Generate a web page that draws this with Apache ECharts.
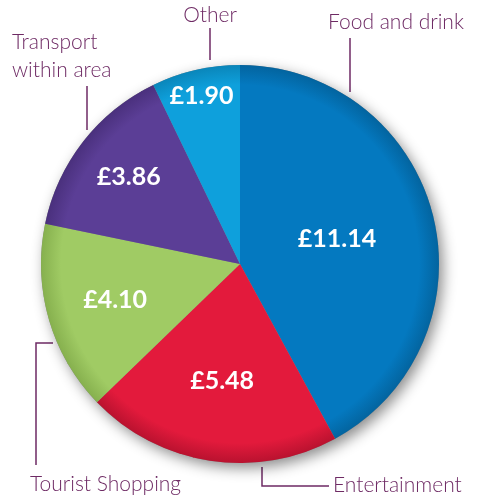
<!DOCTYPE html>
<html><head><meta charset="utf-8">
<script src="https://cdn.jsdelivr.net/npm/echarts@6/dist/echarts.min.js"></script>
<style>html,body{margin:0;padding:0;background:#fff}#c{width:485px;height:499px}</style>
</head><body><div id="c"></div>
<script>
const categories = ['Food and drink', 'Entertainment', 'Tourist Shopping', 'Transport\nwithin area', 'Other'];
const values = [11.14, 5.48, 4.10, 3.86, 1.90];
const valueLabels = ['£11.14', '£5.48', '£4.10', '£3.86', '£1.90'];
const colors = ['#0479c0', '#e31a3c', '#a0cb64', '#5b3e96', '#0ea0dc'];
const edgeColors = ['#03649f', '#b9122f', '#86b04e', '#4a307d', '#0a86ba'];

const CX = 240, CY = 264, R = 199;
const labelRadius = [100, 118, 130, 141, 172];
const total = values.reduce((a, b) => a + b, 0);
const mids = [];
let acc = 0;
values.forEach(v => { mids.push((acc + v / 2) / total * 2 * Math.PI); acc += v; });

const purple = '#6e2a64';
const catFont = 'Lato';
const catPos = [
  { x: 328, y: 22, align: 'left', line: [[350, 38], [350, 92]] },
  { x: 333, y: 485, align: 'left', line: [[262, 467], [262, 486], [329, 486]] },
  { x: 30, y: 484, align: 'left', line: [[53, 343], [36, 343], [36, 465]] },
  { x: 12, y: 56, align: 'left', line: [[87, 86], [87, 130]] },
  { x: 210, y: 15, align: 'center', line: [[210, 28], [210, 60]] }
];
const graphics = [];
categories.forEach((c, i) => {
  const p = catPos[i];
  graphics.push({ type: 'text', x: p.x, y: p.y, style: { text: c, fill: purple, font: '300 21px ' + catFont, align: p.align, verticalAlign: 'middle', lineHeight: 28 } });
  graphics.push({ type: 'polyline', shape: { points: p.line }, style: { stroke: purple, lineWidth: 1.5, fill: null } });
});

function grad(i) {
  return {
    type: 'radial', x: CX, y: CY, r: R, global: true,
    colorStops: [
      { offset: 0, color: colors[i] },
      { offset: 0.9, color: colors[i] },
      { offset: 1, color: edgeColors[i] }
    ]
  };
}

const chart = echarts.init(document.getElementById('c'), null, { renderer: 'canvas' });
chart.setOption({
  animation: false,
  graphic: graphics,
  series: [
    {
      type: 'pie', silent: true, z: 1,
      center: [CX, CY], radius: R,
      label: { show: false }, labelLine: { show: false },
      itemStyle: { color: '#888', shadowBlur: 14, shadowColor: 'rgba(0,0,0,0.45)', shadowOffsetX: 4, shadowOffsetY: 5 },
      data: [{ value: 1 }]
    },
    {
      type: 'pie', z: 2,
      center: [CX, CY], radius: R,
      startAngle: 90, clockwise: true,
      label: {
        show: true, position: 'inside',
        formatter: p => valueLabels[p.dataIndex],
        color: '#fff', fontFamily: 'Lato', fontWeight: 'bold', fontSize: 25
      },
      labelLayout: params => {
        const i = params.dataIndex, a = mids[i], r = labelRadius[i];
        return { x: CX + r * Math.sin(a), y: CY - r * Math.cos(a) };
      },
      itemStyle: { borderWidth: 0 },
      data: categories.map((c, i) => ({ name: c, value: values[i], itemStyle: { color: grad(i) } }))
    }
  ]
});
</script></body></html>
